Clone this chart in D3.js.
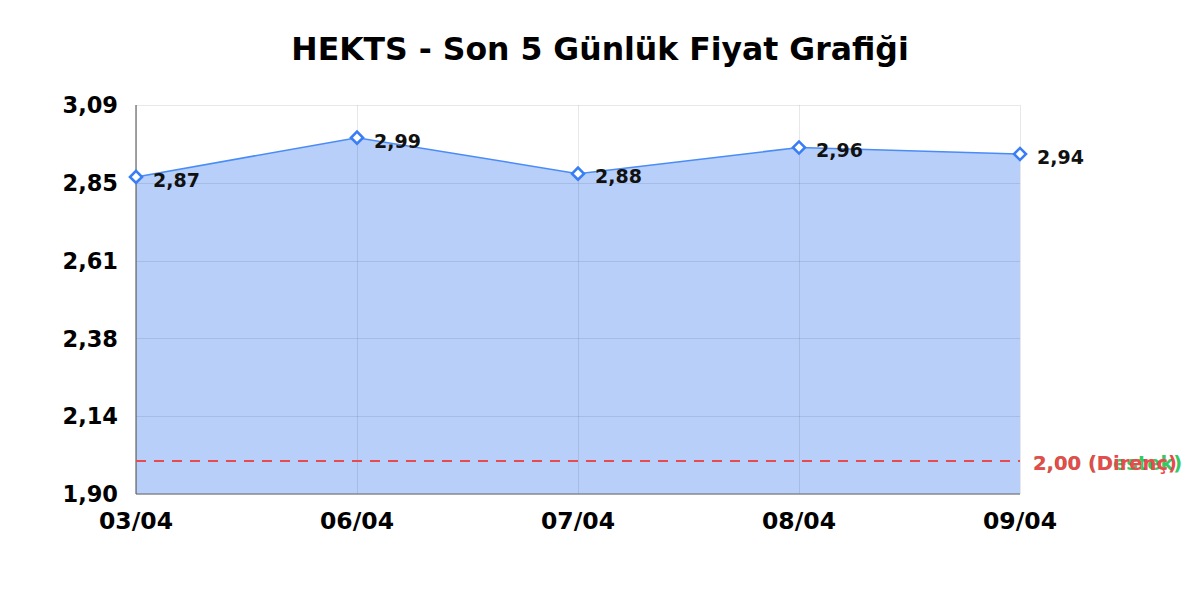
<!DOCTYPE html>
<html><head><meta charset="utf-8">
<script src="https://cdn.jsdelivr.net/npm/d3@7"></script>
<style>body{margin:0;background:#fff}svg{display:block}text{font-family:"DejaVu Sans",sans-serif;font-weight:bold}</style>
</head><body>
<svg id="c" width="1200" height="600"></svg>
<script>
const title = "HEKTS - Son 5 Günlük Fiyat Grafiği";
const dates = ["03/04","06/04","07/04","08/04","09/04"];
const prices = [2.87, 2.99, 2.88, 2.96, 2.94];
const priceLabels = ["2,87","2,99","2,88","2,96","2,94"];
const yTicks = [1.90, 2.138, 2.376, 2.614, 2.852, 3.09];
const yTickLabels = ["1,90","2,14","2,38","2,61","2,85","3,09"];
const levels = [
  {name:"2,00 (Destek)", value:2.00, color:"#36c862"},
  {name:"2,00 (Direnç)", value:2.00, color:"#e84a4d"}
];

const svg = d3.select("#c");
const m = {l:136, r:180, t:105, b:106};
const W = 1200, H = 600;
const x = d3.scalePoint().domain(dates).range([m.l, W - m.r]);
const y = d3.scaleLinear().domain([1.90, 3.09]).range([H - m.b, m.t]);

svg.append("text").attr("x", 600).attr("y", 60).attr("text-anchor","middle")
  .style("font-size","31.5px").attr("fill","#000").text(title);

// area
const area = d3.area().x((d,i)=>x(dates[i])).y0(y(1.90)).y1(d=>y(d));
svg.append("path").datum(prices).attr("d", area).attr("fill","#b7cff9");

// grid
const g = svg.append("g");
g.selectAll(".hg").data(yTicks).join("line")
  .attr("x1", m.l).attr("x2", W - m.r).attr("y1", d=>Math.round(y(d))+0.5).attr("y2", d=>Math.round(y(d))+0.5)
  .attr("stroke","#000").attr("stroke-opacity",0.09).attr("stroke-width",1);
g.selectAll(".vg").data(dates).join("line")
  .attr("x1", d=>Math.round(x(d))+0.5).attr("x2", d=>Math.round(x(d))+0.5).attr("y1", m.t).attr("y2", H - m.b)
  .attr("stroke","#000").attr("stroke-opacity",0.09).attr("stroke-width",1);

// axes lines
svg.append("line").attr("x1", m.l).attr("x2", m.l).attr("y1", m.t).attr("y2", H-m.b).attr("stroke","#666").attr("stroke-width",1.2);
svg.append("line").attr("x1", m.l).attr("x2", W-m.r).attr("y1", H-m.b).attr("y2", H-m.b).attr("stroke","#666").attr("stroke-width",1.2);

// y tick labels
svg.selectAll(".yl").data(yTicks).join("text")
  .attr("x", m.l - 18).attr("y", d=>y(d)).attr("dy","0.36em").attr("text-anchor","end")
  .style("font-size","22.5px").attr("fill","#000").text((d,i)=>yTickLabels[i]);
// x tick labels
svg.selectAll(".xl").data(dates).join("text")
  .attr("x", d=>x(d)).attr("y", H - m.b + 34.5).attr("text-anchor","middle")
  .style("font-size","23.5px").attr("fill","#000").text(d=>d);

// levels
levels.forEach(l=>{
  svg.append("line").attr("x1", m.l).attr("x2", W-m.r).attr("y1", Math.round(y(l.value))).attr("y2", Math.round(y(l.value)))
    .attr("stroke", l.color).attr("stroke-width",2).attr("stroke-dasharray","10,8");
  svg.append("text").attr("x", W - m.r + 13).attr("y", y(l.value) + 2).attr("dy","0.36em")
    .style("font-size","19.5px").attr("fill", l.color).text(l.name);
});

// line
const line = d3.line().x((d,i)=>x(dates[i])).y(d=>y(d));
svg.append("path").datum(prices).attr("d", line).attr("fill","none").attr("stroke","#4a8cf7").attr("stroke-width",1.5);

// markers
svg.selectAll(".mk").data(prices).join("path")
  .attr("transform",(d,i)=>`translate(${x(dates[i])},${y(d)}) rotate(45)`)
  .attr("d", d3.symbol(d3.symbolSquare, 72)())
  .attr("fill","#fff").attr("stroke","#3a7ef5").attr("stroke-width",2.6);

// data labels
svg.selectAll(".dl").data(prices).join("text")
  .attr("x",(d,i)=>x(dates[i]) + 17).attr("y", d=>y(d) + 3).attr("dy","0.36em")
  .style("font-size","19px").attr("fill","#111").text((d,i)=>priceLabels[i]);
</script>
</body></html>
